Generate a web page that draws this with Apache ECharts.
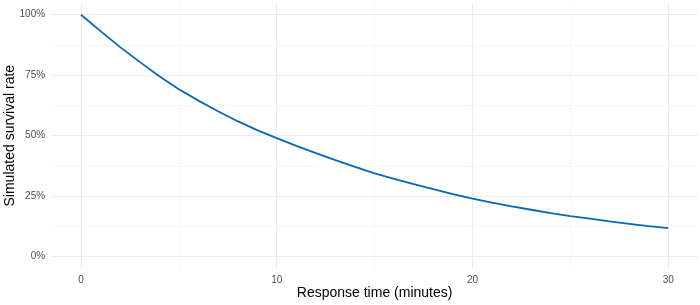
<!DOCTYPE html>
<html>
<head>
<meta charset="utf-8">
<script src="https://cdn.jsdelivr.net/npm/echarts@6/dist/echarts.min.js"></script>
<style>html,body{margin:0;padding:0;background:#fff}#c{width:700px;height:305px}</style>
</head>
<body>
<div id="c"></div>
<script>
// Data
const minutes = [0,1,2,3,4,5,6,7,8,9,10,11,12,13,14,15,16,17,18,19,20,21,22,23,24,25,26,27,28,29,30];
const survival = [100,93.2,86.6,80.5,74.6,69.2,64.5,60.1,56.0,52.3,49.0,45.8,42.8,39.9,37.1,34.4,32.2,30.0,27.9,25.9,24.0,22.3,20.8,19.4,18.0,16.8,15.7,14.6,13.6,12.6,11.8];
const xMajorTicks = [0,10,20,30];
const xMinorTicks = [5,15,25];
const yMajorTicks = [0,25,50,75,100];
const yMinorTicks = [12.5,37.5,62.5,87.5];

const chart = echarts.init(document.getElementById('c'), null, {renderer:'canvas'});
const font = 'Liberation Sans, Arial, sans-serif';
const majorStyle = {color:'#ebebeb', width:1.1, type:'solid'};
const minorStyle = {color:'#f2f2f2', width:0.6, type:'solid'};
const gridMarks = [];
xMajorTicks.forEach(v=>gridMarks.push({xAxis:v, lineStyle:majorStyle}));
xMinorTicks.forEach(v=>gridMarks.push({xAxis:v, lineStyle:minorStyle}));
yMajorTicks.forEach(v=>gridMarks.push({yAxis:v, lineStyle:majorStyle}));
yMinorTicks.forEach(v=>gridMarks.push({yAxis:v, lineStyle:minorStyle}));

chart.setOption({
  animation:false,
  backgroundColor:'#ffffff',
  grid:{left:51.6, right:2.4, top:2.6, bottom:36.2, containLabel:false, outerBoundsMode:'none'},
  xAxis:{
    type:'value', min:-1.5, max:31.5,
    name:'Response time (minutes)', nameLocation:'middle', nameGap:17, nameMoveOverlap:false,
    nameTextStyle:{fontFamily:font, fontSize:14, color:'#000', verticalAlign:'top'},
    axisLine:{show:false}, axisTick:{show:false}, splitLine:{show:false},
    axisLabel:{customValues:xMajorTicks, fontFamily:font, fontSize:10, color:'#4d4d4d', margin:6, showMinLabel:true, showMaxLabel:true}
  },
  yAxis:{
    type:'value', min:-5, max:105,
    name:'Simulated survival rate', nameLocation:'middle', nameGap:34, nameMoveOverlap:false,
    nameTextStyle:{fontFamily:font, fontSize:14, color:'#000'},
    axisLine:{show:false}, axisTick:{show:false}, splitLine:{show:false},
    axisLabel:{customValues:yMajorTicks, formatter:v=>v+'%', fontFamily:font, fontSize:10, color:'#4d4d4d', margin:6.5}
  },
  series:[
    {
      type:'line', data:[], silent:true,
      markLine:{silent:true, symbol:['none','none'], label:{show:false}, animation:false, data:gridMarks}
    },
    {
      type:'line', data:minutes.map((m,i)=>[m,survival[i]]),
      showSymbol:false, smooth:false, z:5,
      lineStyle:{color:'#0b66b3', width:1.8}
    }
  ]
});
</script>
</body>
</html>
